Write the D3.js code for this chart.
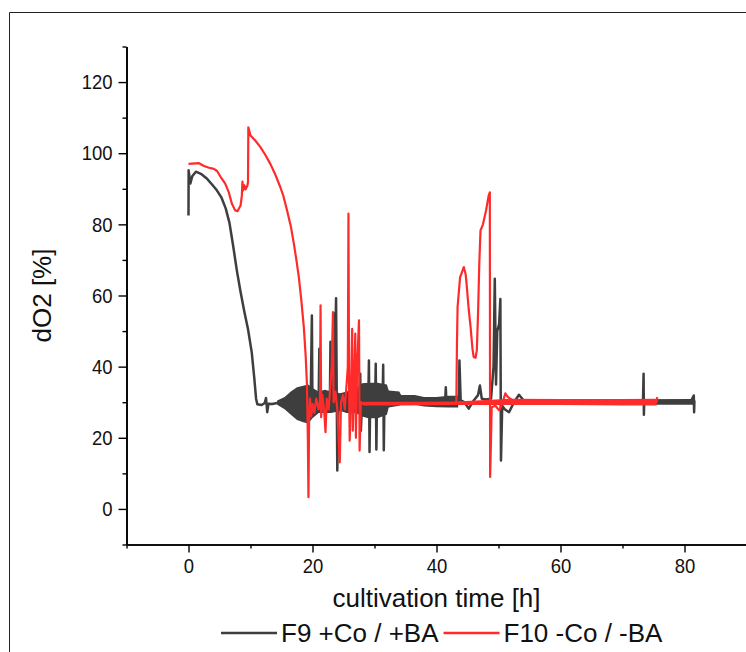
<!DOCTYPE html>
<html>
<head>
<meta charset="utf-8">
<script src="https://cdnjs.cloudflare.com/ajax/libs/d3/7.8.5/d3.min.js"></script>
<style>
  body { margin: 0; background: #fff; }
  svg text { font-family: "Liberation Sans", Arial, sans-serif; fill: #111; }
</style>
</head>
<body>
<div id="chart"></div>
<script>
// F9 +Co / +BA  -- [time h, dO2 %]
const f9Trace = [
  [0, 82.5], [0.02, 95.2], [0.3, 91.5], [0.6, 93.5], [1.2, 94.8], [2.0, 94.2], [3.0, 92.8],
  [3.8, 91.2], [4.6, 89.5], [5.3, 87.6], [6.0, 84.5], [6.6, 80.5], [7.2, 74], [7.8, 67],
  [8.4, 61], [9.0, 55.5], [9.6, 50.5], [10.2, 44], [10.6, 37], [10.9, 31], [11.1, 29.4],
  [11.8, 29.2], [12.3, 29.8], [12.5, 31.2], [12.7, 27.2], [12.9, 29.6], [13.5, 29.5],
  [14.3, 29.8], [19.7, 30], [19.9, 54.4], [20.0, 27], [20.3, 30], [21.0, 31], [21.1, 45],
  [21.2, 28], [22.8, 30], [22.9, 47], [23.0, 29], [23.3, 32], [23.4, 55], [23.5, 30],
  [23.8, 59.2], [24.0, 10.8], [24.2, 30], [27.5, 30], [27.7, 38], [27.8, 22], [28.0, 30],
  [29.0, 30], [29.1, 41.7], [29.2, 16], [29.3, 30], [30.1, 30], [30.2, 40.8], [30.3, 16.7],
  [30.4, 30], [31.3, 30], [31.4, 40.5], [31.5, 16.5], [31.6, 30], [41.4, 30.3], [41.5, 34.2],
  [41.6, 30], [43.5, 30], [43.6, 31], [43.7, 41.7], [43.9, 30.5], [44.5, 30], [45.2, 28.2],
  [46.0, 30.5], [46.7, 32], [47.0, 34.7], [47.3, 31], [48.0, 30.8], [48.8, 31], [49.2, 40],
  [49.4, 64.7], [49.6, 35], [49.8, 50], [50.1, 52], [50.3, 59], [50.4, 13.6], [50.6, 29],
  [51.0, 28], [51.7, 27.2], [52.5, 30], [53.3, 32.1], [54.0, 30.6], [55, 30.2], [60, 30.2],
  [65, 30], [70, 30], [73.3, 30], [73.4, 38], [73.45, 26.5], [73.5, 30], [74, 30.2], [75, 30],
  [76, 30.3], [77, 29.8], [78, 30.4], [79, 29.9], [80, 30.3], [81, 30.2], [81.5, 31.9],
  [81.55, 27.2], [81.6, 30.5]
];
// dense oscillation of F9, drawn as its envelope
const f9BandTime = [14.3, 15.5, 16.5, 17.5, 18.5, 19.3, 20.0, 21, 22, 23, 24.5, 25.5, 27, 28, 29, 30.5, 32, 32.3, 34, 34.3, 36.5, 38, 40, 42, 43.5];
const f9BandHigh = [30.5, 31.5, 33, 34.2, 34.6, 35, 34, 33, 33.5, 33, 32.5, 33, 34, 35.3, 35.5, 35.5, 35, 33.3, 33, 32, 32, 31.5, 31.5, 31.8, 31.8];
const f9BandLow  = [29.3, 28, 26.5, 25, 24.4, 24, 25.5, 27, 27, 27, 27.5, 27, 27, 26, 25.5, 25.5, 26.5, 28.5, 29, 29.3, 29.3, 28.8, 28.6, 28.5, 28.5];
const f9TailTime = [52.5, 60, 70, 81.5];
const f9TailHigh = [30.8, 30.8, 30.8, 30.9];
const f9TailLow  = [29.3, 29.3, 29.3, 29.3];

// F10 -Co / -BA
const f10Trace = [
  [0, 97], [1.7, 97.2], [2.5, 96.4], [3.3, 95.9], [4.1, 95.6], [4.6, 95], [5.2, 93.3],
  [5.9, 91.5], [6.5, 89], [7.0, 85.8], [7.5, 84], [7.9, 83.7], [8.4, 85.3], [8.6, 88],
  [8.7, 92], [8.8, 89.5], [9.0, 91], [9.2, 89.8], [9.5, 90.9], [9.6, 91.9], [9.65, 107.3],
  [10, 105], [10.8, 103.5], [11.6, 101.7], [12.4, 99.5], [13.2, 97], [14, 94], [14.8, 90.5],
  [15.3, 88], [15.9, 83.9], [16.5, 79.5], [17, 74.5], [17.4, 70], [17.8, 65.1], [18.2, 58.6],
  [18.6, 51.1], [18.9, 43], [19.1, 35.2], [19.25, 20], [19.35, 3.3], [19.45, 25], [19.6, 31],
  [19.8, 26], [20.0, 29.5], [20.3, 27], [20.6, 31], [21.0, 28], [21.2, 30], [21.3, 57.2],
  [21.4, 25.8], [21.6, 32], [21.9, 27], [22.1, 21.6], [22.3, 31], [22.6, 28], [22.9, 35],
  [23.1, 40], [23.3, 55.3], [23.4, 30], [23.7, 33], [24.0, 28], [24.4, 13.1], [24.6, 30],
  [24.9, 32], [25.2, 28], [25.5, 35], [25.7, 40], [25.8, 83], [25.9, 35], [26.0, 19.2],
  [26.2, 32], [26.4, 50.6], [26.5, 22], [26.7, 35], [26.9, 49.3], [27.0, 20], [27.2, 40],
  [27.5, 53], [27.6, 16.4], [27.8, 30], [28.2, 29.5], [35, 29.6], [40, 29.6], [43.2, 29.8],
  [43.3, 46.4], [43.4, 56.7], [43.8, 65.1], [44.1, 66.5], [44.4, 68], [44.7, 66], [44.9, 62.3],
  [45.2, 56], [45.5, 51.1], [45.8, 45], [46.0, 42.7], [46.3, 42.5], [46.5, 44.5], [46.7, 54.8],
  [46.9, 68.9], [47.1, 78.3], [47.5, 80], [48.0, 84], [48.4, 88], [48.6, 89], [48.65, 9],
  [48.8, 20], [48.9, 28.6], [49.5, 29], [50.1, 27.7], [50.6, 29.5], [51.1, 32.5], [51.5, 31.5],
  [51.9, 31], [52.5, 30.3], [60, 30], [70, 30], [75.5, 30], [75.6, 31.4]
];
const f10BandTime = [28.2, 35, 43.1, 52.5, 60, 70, 75.5];
const f10BandHigh = [30.1, 30.1, 30.2, 31, 30.9, 30.9, 31];
const f10BandLow  = [29.1, 29.1, 29.2, 29.2, 29.2, 29.1, 29.1];

const xMajor = [0, 20, 40, 60, 80];
const xMinor = [-10, 10, 30, 50, 70, 90];
const yMajor = [0, 20, 40, 60, 80, 100, 120];
const yMinor = [-10, 10, 30, 50, 70, 90, 110, 130];
const legendLabels = ["F9 +Co / +BA", "F10 -Co / -BA"];
const colors = ["#3e3e3e", "#ff2b2b"];

const W = 746, H = 652;
const svg = d3.select("#chart").append("svg")
  .attr("width", W).attr("height", H);

// outer frame (top and left edges visible)
svg.append("path")
  .attr("d", `M9.5,${H} V12.5 H${W}`)
  .attr("fill", "none").attr("stroke", "#222").attr("stroke-width", 1);

const x = d3.scaleLinear().domain([-10, 90]).range([126.5, 746.5]);
const y = d3.scaleLinear().domain([-10, 130]).range([544.5, 46.5]);

function styleAxis(g) {
  g.select(".domain").attr("stroke", "#000").attr("stroke-width", 1.6);
  g.selectAll(".tick line").attr("stroke", "#000").attr("stroke-width", 1.4);
  // tick labels in the original are a little condensed
  g.selectAll(".tick text").style("font-size", "21px").attr("fill", "#111")
    .each(function () {
      const w = this.getComputedTextLength();
      if (w > 0) d3.select(this).attr("textLength", w * 0.88).attr("lengthAdjust", "spacingAndGlyphs");
    });
}

svg.append("g").attr("transform", "translate(0,544.5)")
  .call(d3.axisBottom(x).tickValues(xMinor).tickSize(4).tickFormat("").tickSizeOuter(0))
  .call(styleAxis);
svg.append("g").attr("transform", "translate(0,544.5)")
  .call(d3.axisBottom(x).tickValues(xMajor).tickSize(8).tickPadding(6).tickSizeOuter(0).tickFormat(d3.format("d")))
  .call(styleAxis);
svg.append("g").attr("transform", "translate(126.5,0)")
  .call(d3.axisLeft(y).tickValues(yMinor).tickSize(4).tickFormat("").tickSizeOuter(0))
  .call(styleAxis);
svg.append("g").attr("transform", "translate(126.5,0)")
  .call(d3.axisLeft(y).tickValues(yMajor).tickSize(8).tickPadding(6).tickSizeOuter(0).tickFormat(d3.format("d")))
  .call(styleAxis);

// axis titles
svg.append("text")
  .attr("x", (x.range()[0] + x.range()[1]) / 2).attr("y", 607)
  .attr("text-anchor", "middle").style("font-size", "26px")
  .text("cultivation time [h]");
svg.append("text")
  .attr("transform", `translate(51,${(y.range()[0] + y.range()[1]) / 2}) rotate(-90)`)
  .attr("text-anchor", "middle").style("font-size", "26px")
  .text("dO2 [%]");

// series
const line = d3.line().x(d => x(d[0])).y(d => y(d[1]));
const band = d3.area().x(d => x(d.t)).y0(d => y(d.lo)).y1(d => y(d.hi));
const toBand = (ts, hs, ls) => ts.map((t, i) => ({ t: t, hi: hs[i], lo: ls[i] }));

const plot = svg.append("g");
plot.append("path").datum(toBand(f9BandTime, f9BandHigh, f9BandLow))
  .attr("d", band).attr("fill", colors[0]);
plot.append("path").datum(toBand(f9TailTime, f9TailHigh, f9TailLow))
  .attr("d", band).attr("fill", colors[0]);
plot.append("path").datum(f9Trace)
  .attr("d", line).attr("fill", "none").attr("stroke", colors[0])
  .attr("stroke-width", 2.5).attr("stroke-linejoin", "round");
plot.append("path").datum(toBand(f10BandTime, f10BandHigh, f10BandLow))
  .attr("d", band).attr("fill", colors[1]);
plot.append("path").datum(f10Trace)
  .attr("d", line).attr("fill", "none").attr("stroke", colors[1])
  .attr("stroke-width", 2.2).attr("stroke-linejoin", "round");

// legend
const legend = svg.append("g").attr("transform", "translate(0,633)");
let lx = 221;
legendLabels.forEach((lab, i) => {
  legend.append("line").attr("x1", lx).attr("x2", lx + 56).attr("y1", 0).attr("y2", 0)
    .attr("stroke", colors[i]).attr("stroke-width", 2.6);
  const t = legend.append("text").attr("x", lx + 60).attr("y", 9)
    .style("font-size", "26px").text(lab);
  lx += 60 + t.node().getComputedTextLength() + 5;
});
</script>
</body>
</html>
